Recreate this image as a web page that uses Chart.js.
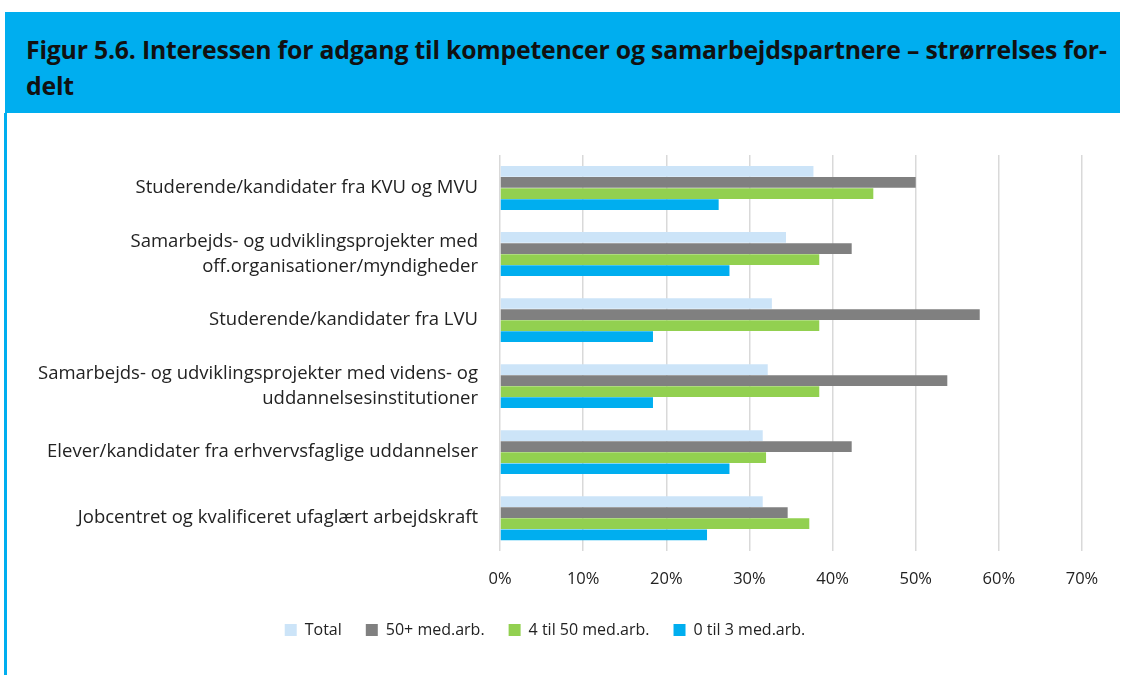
<!DOCTYPE html>
<html><head><meta charset="utf-8">
<script src="https://cdn.jsdelivr.net/npm/chart.js@4.4.1/dist/chart.umd.min.js"></script>
<style>
html,body{margin:0;padding:0;background:#fff;width:1127px;height:675px;overflow:hidden;}
#hdr{position:absolute;left:5px;top:12px;width:1115px;height:101px;background:#00AEEF;}
#hdr div{position:absolute;left:21px;top:19px;font-family:"Open Sans",sans-serif;font-weight:bold;font-size:24.8px;line-height:36px;color:#111;letter-spacing:-0.2px;white-space:nowrap;}
#bar{position:absolute;left:4px;top:113px;width:3px;height:562px;background:#00AEEF;}
#wrap{position:absolute;left:8px;top:113px;width:1112px;height:562px;}
</style></head><body>
<div id="hdr"><div>Figur 5.6. Interessen for adgang til kompetencer og samarbejdspartnere – strørrelses for-<br>delt</div></div>
<div id="bar"></div>
<div id="wrap"><canvas id="c"></canvas></div>
<script>
const categories = [
  "Studerende/kandidater fra KVU og MVU",
  ["Samarbejds- og udviklingsprojekter med", "off.organisationer/myndigheder"],
  "Studerende/kandidater fra LVU",
  ["Samarbejds- og udviklingsprojekter med videns- og", "uddannelsesinstitutioner"],
  "Elever/kandidater fra erhvervsfaglige uddannelser",
  "Jobcentret og kvalificeret ufaglært arbejdskraft"
];
const seriesNames = ["Total", "50+ med.arb.", "4 til 50 med.arb.", "0 til 3 med.arb."];
const total   = [37.7, 34.4, 32.7, 32.2, 31.6, 31.6];
const big     = [50.0, 42.3, 57.7, 53.8, 42.3, 34.6];
const medium  = [44.9, 38.4, 38.4, 38.4, 32.0, 37.2];
const small   = [26.3, 27.6, 18.4, 18.4, 27.6, 24.9];
const colors  = ["#CCE4F8", "#808080", "#92D050", "#00AEEF"];
const tickMax = 70;

const font = "Open Sans";
const LEGEND_SHIFT = 9;
const legendTweak = {
  id: 'legendTweak',
  beforeUpdate(chart) {
    const lg = chart.legend;
    if (lg && !lg._tweaked) {
      lg._tweaked = true;
      const f = lg.fit.bind(lg);
      lg.fit = function () { f(); this.height -= LEGEND_SHIFT; };
      const d = lg.draw.bind(lg);
      lg.draw = function () { this.top -= LEGEND_SHIFT; d(); this.top += LEGEND_SHIFT; };
    }
  }
};

new Chart(document.getElementById('c'), {
  type: 'bar',
  data: {
    labels: categories,
    datasets: [total, big, medium, small].map((d, i) => ({
      label: seriesNames[i], data: d, backgroundColor: colors[i],
      barPercentage: 0.97, categoryPercentage: 0.67
    }))
  },
  plugins: [legendTweak],
  options: {
    indexAxis: 'y', responsive: true, maintainAspectRatio: false, animation: false,
    layout: { padding: { top: 42, right: 38, bottom: 27, left: 0 } },
    plugins: {
      legend: { position: 'bottom',
        labels: { font: { family: font, size: 16 }, color: '#222', boxWidth: 12, boxHeight: 12, padding: 24 } },
      tooltip: { enabled: false }
    },
    scales: {
      x: { min: 0, max: tickMax, border: { display: false },
        grid: { color: '#D9D9D9', lineWidth: 1.5, drawTicks: false },
        ticks: { stepSize: 10, padding: 18, callback: v => v + '%', font: { family: font, size: 16.5 }, color: '#222' } },
      y: { border: { display: false }, grid: { display: false },
        ticks: { font: { family: font, size: 18.5, lineHeight: 1.35 }, color: '#222', padding: 14 },
        afterFit: s => { s.width = 492; } }
    }
  }
});
</script></body></html>
